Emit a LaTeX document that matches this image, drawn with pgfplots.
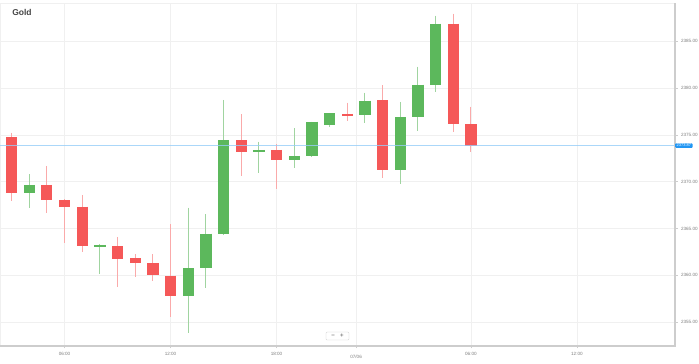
\documentclass[border=0pt]{standalone}
\usepackage{pgfplots}
\usepackage{pgfplotstable}
\pgfplotsset{compat=1.18}
\usepackage{fontspec}
\setmainfont{Liberation Sans}
\definecolor{cred}{RGB}{245,88,88}
\definecolor{cgreen}{RGB}{92,184,92}
\definecolor{wred}{RGB}{250,170,170}
\definecolor{wgreen}{RGB}{160,212,160}
\definecolor{gridc}{RGB}{240,240,240}
\definecolor{axisc}{RGB}{205,205,205}
\definecolor{tickc}{RGB}{125,125,125}
\definecolor{pline}{RGB}{150,205,248}
\definecolor{plabel}{RGB}{33,150,243}
\definecolor{titlec}{RGB}{68,68,68}

% x open high low close
\pgfplotstableread{
x  o       h       l       c
1  2374.75 2375.25 2367.95 2368.77
3  2369.66 2371.69 2366.63 2368.02
4  2368.02 2368.13 2363.43 2367.34
5  2367.34 2368.59 2362.47 2363.14
7  2363.14 2364.13 2358.79 2361.75
8  2361.83 2362.25 2359.80 2361.29
9  2361.32 2362.25 2359.43 2360.01
10 2359.97 2365.49 2355.52 2357.83
14 2374.43 2377.24 2370.62 2373.22
16 2373.40 2374.01 2369.26 2372.33
20 2377.25 2378.45 2376.53 2377.05
22 2378.71 2380.31 2370.44 2371.29
26 2386.89 2387.97 2375.32 2376.21
27 2376.14 2378.02 2373.15 2373.87
}\redc

\pgfplotstableread{
x  o       h       l       c
2  2368.77 2370.83 2367.17 2369.66
6  2363.05 2363.35 2360.12 2363.25
11 2357.83 2367.23 2353.81 2360.76
12 2360.76 2366.56 2358.69 2364.46
13 2364.39 2378.74 2364.32 2374.43
15 2373.15 2374.28 2370.97 2373.40
17 2372.33 2375.72 2371.44 2372.76
18 2372.76 2376.44 2372.68 2376.42
19 2376.07 2377.35 2375.89 2377.32
21 2377.10 2379.52 2376.31 2378.66
23 2371.29 2378.53 2369.73 2376.89
24 2376.89 2382.30 2375.43 2380.37
25 2380.34 2387.76 2379.56 2386.89
}\greenc

\pgfplotsset{candle/.style 2 args={draw=none, no markers, forget plot,
  error bars/.cd, y dir=minus, y explicit, error mark=none,
  error bar style={draw=#1, line width=#2}}}

\begin{document}
\begin{tikzpicture}
\useasboundingbox (0,-18pt) rectangle (699pt,346pt);
\begin{axis}[
  at={(0,0)}, anchor=south west,
  scale only axis, width=675pt, height=343pt,
  xmin=0.349, xmax=38.55, ymin=2352.46, ymax=2389.1,
  clip mode=individual,
  axis line style={draw=gridc, line width=0.6pt},
  xtick={4,10,16,20.5,27,33},
  xticklabels={06:00,12:00,18:00,{\raisebox{-6pt}{07/06}},06:00,12:00},
  ytick={2355,2360,2365,2370,2375,2380,2385},
  xtick pos=left, ytick pos=right,
  yticklabel pos=right,
  tick align=outside, major tick length=2.5pt,
  tick style={draw=axisc, line width=0.6pt},
  grid=major, major grid style={draw=gridc, line width=0.6pt},
  ticklabel style={font=\fontsize{4.6}{5}\selectfont, text=tickc},
  yticklabel style={/pgf/number format/.cd, fixed, fixed zerofill, precision=2, 1000 sep={}},
  /pgf/number format/assume math mode=true,
]
% wicks
\addplot[candle={wred}{1pt}]
  table[x=x, y=h, y error minus expr={\thisrow{h}-\thisrow{l}}]{\redc};
\addplot[candle={wgreen}{1pt}]
  table[x=x, y=h, y error minus expr={\thisrow{h}-\thisrow{l}}]{\greenc};

% bodies
\addplot[candle={cred}{11.3pt}]
  table[x=x, y=o, y error minus expr={\thisrow{o}-\thisrow{c}}]{\redc};
\addplot[candle={cgreen}{11.3pt}]
  table[x=x, y=c, y error minus expr={\thisrow{c}-\thisrow{o}}]{\greenc};

% price line
\addplot[draw=pline, line width=0.9pt, opacity=0.8, forget plot] coordinates {(0.349,2373.87) (38.55,2373.87)};

% axis lines (bottom and right)
\draw[draw=axisc, line width=1.1pt] (rel axis cs:0,0) -- (rel axis cs:1,0) -- (rel axis cs:1,1);

% current price label
\node[fill=plabel, rounded corners=1pt, text=white, font=\fontsize{4}{4}\selectfont,
  inner xsep=1.5pt, inner ysep=0.9pt, anchor=west] at (axis cs:38.55,2373.87) {2373.87};

% title
\node[anchor=west, font=\fontsize{8.5}{8.5}\selectfont\bfseries, text=titlec]
  at (rel axis cs:0.013,0.971) {Gold};

% zoom buttons
\node[draw=axisc, fill=white, rounded corners=1pt, line width=0.4pt,
  minimum width=23pt, minimum height=8pt, inner sep=0pt,
  font=\fontsize{6}{6}\selectfont\bfseries, text=tickc]
  at (rel axis cs:0.5,0.029) {−\hspace{5pt}+};
\end{axis}
\end{tikzpicture}
\end{document}
